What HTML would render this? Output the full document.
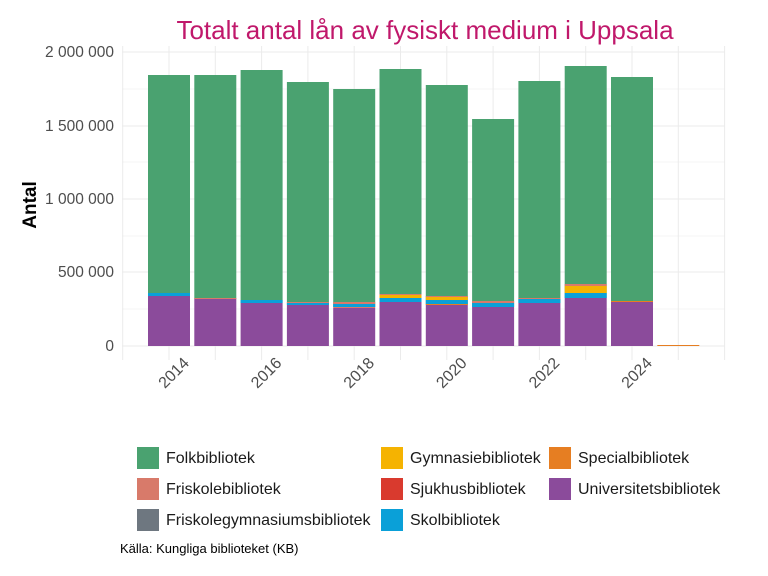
<!DOCTYPE html>
<html><head><meta charset="utf-8"><style>body{margin:0;background:#fff}svg{display:block}</style></head>
<body>
<svg width="768" height="576" viewBox="0 0 768 576" xmlns="http://www.w3.org/2000/svg" font-family="Liberation Sans, sans-serif">
<rect width="768" height="576" fill="#fff"/>
<text x="425" y="39" text-anchor="middle" font-size="26" fill="#c0186b">Totalt antal lån av fysiskt medium i Uppsala</text>
<g stroke="#ebebeb" stroke-width="1">
<line x1="122" x2="725" y1="52" y2="52"/><line x1="122" x2="725" y1="126" y2="126"/><line x1="122" x2="725" y1="199" y2="199"/><line x1="122" x2="725" y1="272" y2="272"/><line x1="122" x2="725" y1="346" y2="346"/>
<line x1="122" x2="725" y1="89" y2="89" stroke="#f4f4f4"/><line x1="122" x2="725" y1="162" y2="162" stroke="#f4f4f4"/><line x1="122" x2="725" y1="236" y2="236" stroke="#f4f4f4"/><line x1="122" x2="725" y1="309" y2="309" stroke="#f4f4f4"/>
<line x1="122.7" x2="122.7" y1="46" y2="360"/><line x1="169" x2="169" y1="46" y2="360"/><line x1="215.3" x2="215.3" y1="46" y2="360"/><line x1="261.6" x2="261.6" y1="46" y2="360"/><line x1="307.9" x2="307.9" y1="46" y2="360"/><line x1="354.2" x2="354.2" y1="46" y2="360"/><line x1="400.5" x2="400.5" y1="46" y2="360"/><line x1="446.8" x2="446.8" y1="46" y2="360"/><line x1="493.1" x2="493.1" y1="46" y2="360"/><line x1="539.4" x2="539.4" y1="46" y2="360"/><line x1="585.7" x2="585.7" y1="46" y2="360"/><line x1="632" x2="632" y1="46" y2="360"/><line x1="678.3" x2="678.3" y1="46" y2="360"/><line x1="724.6" x2="724.6" y1="46" y2="360"/>
</g>
<g>
<rect x="148" y="75" width="42" height="221" fill="#4aa270"/><rect x="148" y="293" width="42" height="3" fill="#0aa0d8"/><rect x="148" y="296" width="42" height="50" fill="#8b4b9b"/>
<rect x="194.3" y="75" width="42" height="224" fill="#4aa270"/><rect x="194.3" y="298" width="42" height="1" fill="#d87a6a"/><rect x="194.3" y="299" width="42" height="47" fill="#8b4b9b"/>
<rect x="240.6" y="70" width="42" height="233" fill="#4aa270"/><rect x="240.6" y="300" width="42" height="3" fill="#0aa0d8"/><rect x="240.6" y="303" width="42" height="43" fill="#8b4b9b"/>
<rect x="286.9" y="82" width="42" height="223" fill="#4aa270"/><rect x="286.9" y="302" width="42" height="1" fill="#d87a6a"/><rect x="286.9" y="303" width="42" height="2" fill="#0aa0d8"/><rect x="286.9" y="305" width="42" height="41" fill="#8b4b9b"/>
<rect x="333.2" y="89" width="42" height="218" fill="#4aa270"/><rect x="333.2" y="302" width="42" height="2" fill="#d87a6a"/><rect x="333.2" y="304" width="42" height="3" fill="#0aa0d8"/><rect x="333.2" y="307" width="42" height="1" fill="#d87a6a"/><rect x="333.2" y="308" width="42" height="38" fill="#8b4b9b"/>
<rect x="379.5" y="69" width="42" height="233" fill="#4aa270"/><rect x="379.5" y="294" width="42" height="1" fill="#d87a6a"/><rect x="379.5" y="295" width="42" height="3" fill="#f5b301"/><rect x="379.5" y="298" width="42" height="4" fill="#0aa0d8"/><rect x="379.5" y="302" width="42" height="44" fill="#8b4b9b"/>
<rect x="425.8" y="85" width="42" height="220" fill="#4aa270"/><rect x="425.8" y="296" width="42" height="1" fill="#d87a6a"/><rect x="425.8" y="297" width="42" height="3" fill="#f5b301"/><rect x="425.8" y="300" width="42" height="4" fill="#0aa0d8"/><rect x="425.8" y="304" width="42" height="1" fill="#e67e22"/><rect x="425.8" y="305" width="42" height="41" fill="#8b4b9b"/>
<rect x="472.1" y="119" width="42" height="188" fill="#4aa270"/><rect x="472.1" y="301" width="42" height="2" fill="#d87a6a"/><rect x="472.1" y="303" width="42" height="4" fill="#0aa0d8"/><rect x="472.1" y="307" width="42" height="39" fill="#8b4b9b"/>
<rect x="518.4" y="81" width="42" height="222" fill="#4aa270"/><rect x="518.4" y="298" width="42" height="1" fill="#d87a6a"/><rect x="518.4" y="299" width="42" height="4" fill="#0aa0d8"/><rect x="518.4" y="303" width="42" height="43" fill="#8b4b9b"/>
<rect x="564.7" y="66" width="42" height="232" fill="#4aa270"/><rect x="564.7" y="284" width="42" height="2" fill="#d87a6a"/><rect x="564.7" y="286" width="42" height="7" fill="#f5b301"/><rect x="564.7" y="293" width="42" height="5" fill="#0aa0d8"/><rect x="564.7" y="298" width="42" height="48" fill="#8b4b9b"/>
<rect x="611" y="77" width="42" height="225" fill="#4aa270"/><rect x="611" y="301" width="42" height="1" fill="#e67e22"/><rect x="611" y="302" width="42" height="44" fill="#8b4b9b"/>
<rect x="657.3" y="345" width="42" height="1" fill="#e67e22"/>
</g>
<g font-size="15.5" fill="#4d4d4d" text-anchor="end">
<text x="114" y="57">2 000 000</text><text x="114" y="131">1 500 000</text><text x="114" y="204">1 000 000</text><text x="114" y="277">500 000</text><text x="114" y="351">0</text>
</g>
<g font-size="16" fill="#4d4d4d" text-anchor="end">
<text transform="translate(190,364) rotate(-45)">2014</text>
<text transform="translate(282.6,364) rotate(-45)">2016</text>
<text transform="translate(375.2,364) rotate(-45)">2018</text>
<text transform="translate(467.8,364) rotate(-45)">2020</text>
<text transform="translate(560.4,364) rotate(-45)">2022</text>
<text transform="translate(653,364) rotate(-45)">2024</text>
</g>
<text transform="translate(36,205) rotate(-90)" text-anchor="middle" font-size="19" font-weight="bold" fill="#000">Antal</text>
<g font-size="16" fill="#1a1a1a">
<rect x="137" y="447" width="22" height="22" fill="#4aa270"/><text x="166" y="463">Folkbibliotek</text>
<rect x="137" y="478" width="22" height="22" fill="#d87a6a"/><text x="166" y="494">Friskolebibliotek</text>
<rect x="137" y="509" width="22" height="22" fill="#6e7780"/><text x="166" y="525">Friskolegymnasiumsbibliotek</text>
<rect x="381" y="447" width="22" height="22" fill="#f5b301"/><text x="410" y="463">Gymnasiebibliotek</text>
<rect x="381" y="478" width="22" height="22" fill="#d93a2e"/><text x="410" y="494">Sjukhusbibliotek</text>
<rect x="381" y="509" width="22" height="22" fill="#0aa0d8"/><text x="410" y="525">Skolbibliotek</text>
<rect x="549" y="447" width="22" height="22" fill="#e67e22"/><text x="578" y="463">Specialbibliotek</text>
<rect x="549" y="478" width="22" height="22" fill="#8b4b9b"/><text x="578" y="494">Universitetsbibliotek</text>
</g>
<text x="120" y="553" font-size="13" fill="#000">Källa: Kungliga biblioteket (KB)</text>
</svg>
</body></html>
